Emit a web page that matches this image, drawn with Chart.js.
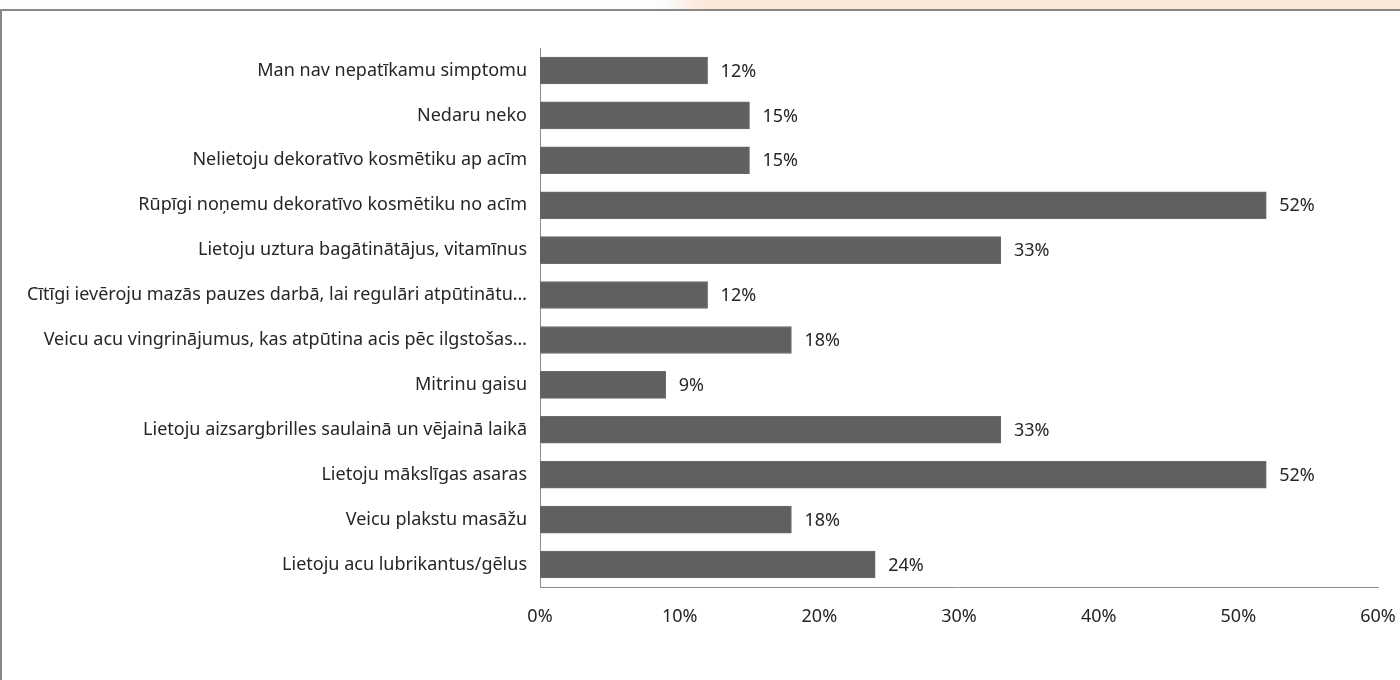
<!DOCTYPE html>
<html>
<head>
<meta charset="utf-8">
<script src="https://cdn.jsdelivr.net/npm/chart.js@4/dist/chart.umd.min.js"></script>
<style>
  html, body { margin: 0; padding: 0; background: #fff; }
  #wrap { position: relative; width: 1400px; height: 680px; overflow: hidden; }
  #glow {
    position: absolute; left: 0; top: 0; width: 1400px; height: 9px;
    background: linear-gradient(to right, #fdfdfd 0px, #fdfdfd 660px, #fbe8d9 705px, #fbe8d9 1400px);
  }
  #frame {
    position: absolute; left: 0; top: 9px; width: 1400px; height: 671px;
    border-top: 2px solid #888; border-left: 2px solid #888; box-sizing: border-box;
  }
  #chart { position: absolute; left: 0; top: 0; }
</style>
</head>
<body>
<div id="wrap">
  <div id="glow"></div>
  <div id="frame"></div>
  <canvas id="chart" width="1400" height="680"></canvas>
</div>
<script>
const answers = [
  'Man nav nepatīkamu simptomu',
  'Nedaru neko',
  'Nelietoju dekoratīvo kosmētiku ap acīm',
  'Rūpīgi noņemu dekoratīvo kosmētiku no acīm',
  'Lietoju uztura bagātinātājus, vitamīnus',
  'Cītīgi ievēroju mazās pauzes darbā, lai regulāri atpūtinātu…',
  'Veicu acu vingrinājumus, kas atpūtina acis pēc ilgstošas…',
  'Mitrinu gaisu',
  'Lietoju aizsargbrilles saulainā un vējainā laikā',
  'Lietoju mākslīgas asaras',
  'Veicu plakstu masāžu',
  'Lietoju acu lubrikantus/gēlus',
];
const shares = [12, 15, 15, 52, 33, 12, 18, 9, 33, 52, 18, 24];
const axisTicks = [0, 10, 20, 30, 40, 50, 60];

const textColor = '#262626';
const fontFamily = '"Noto Sans", "Open Sans", sans-serif';
const fontSize = 18;

// writes "NN%" just past the end of each bar
const valueLabels = {
  id: 'valueLabels',
  afterDatasetsDraw(chart) {
    const ctx = chart.ctx;
    const meta = chart.getDatasetMeta(0);
    ctx.save();
    ctx.font = fontSize + 'px ' + fontFamily;
    ctx.fillStyle = textColor;
    ctx.textAlign = 'left';
    ctx.textBaseline = 'middle';
    meta.data.forEach((bar, i) => {
      ctx.fillText(shares[i] + '%', bar.x + 13, bar.y + 1);
    });
    ctx.restore();
  },
};

const ctx = document.getElementById('chart').getContext('2d');
new Chart(ctx, {
  type: 'bar',
  data: {
    labels: answers,
    datasets: [{
      data: shares,
      backgroundColor: '#606060',
      borderColor: '#6c6c6c',
      borderWidth: 1,
      barThickness: 27,
    }],
  },
  options: {
    indexAxis: 'y',
    responsive: false,
    animation: false,
    layout: { padding: { top: 48, right: 0, left: 0, bottom: 0 } },
    plugins: {
      legend: { display: false },
      tooltip: { enabled: false },
    },
    scales: {
      y: {
        grid: { display: false, drawTicks: false },
        border: { display: true, color: '#8c8c8c', width: 1 },
        ticks: {
          color: textColor,
          padding: 13,
          font: { family: fontFamily, size: fontSize },
        },
        afterFit(scale) { scale.width = 540; },
      },
      x: {
        min: 0,
        max: 60,
        grid: { display: false, drawTicks: false },
        border: { display: true, color: '#8c8c8c', width: 1 },
        afterBuildTicks(scale) {
          scale.ticks = axisTicks.map((v) => ({ value: v }));
        },
        ticks: {
          color: textColor,
          padding: 19,
          maxRotation: 0,
          font: { family: fontFamily, size: fontSize },
          callback: (v) => v + '%',
        },
        afterFit(scale) {
          scale.height = 93;
          scale.paddingRight = 22;
        },
      },
    },
  },
  plugins: [valueLabels],
});
</script>
</body>
</html>
